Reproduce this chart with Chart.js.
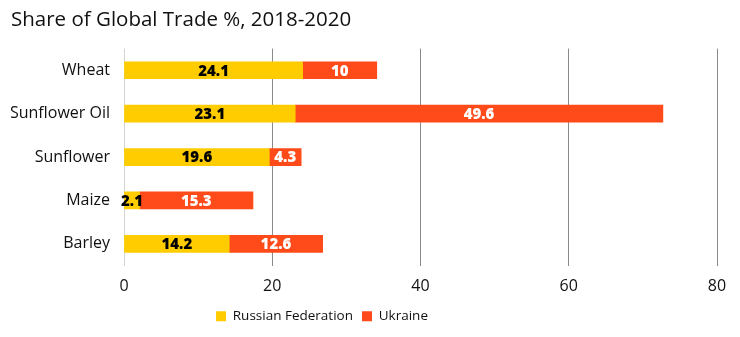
<!DOCTYPE html>
<html>
<head>
<meta charset="utf-8">
<script src="https://cdn.jsdelivr.net/npm/chart.js@4/dist/chart.umd.min.js"></script>
<style>
  html, body { margin: 0; padding: 0; background: #fff; }
  .chart-container { width: 740px; height: 337px; }
</style>
</head>
<body>
<div class="chart-container">
  <canvas id="trade-chart"></canvas>
</div>
<script>
const categories = ['Wheat', 'Sunflower Oil', 'Sunflower', 'Maize', 'Barley'];
const russiaValues = [24.1, 23.1, 19.6, 2.1, 14.2];
const ukraineValues = [10, 49.6, 4.3, 15.3, 12.6];
const xTicks = [0, 20, 40, 60, 80];

const FONT = '"Open Sans", "Noto Sans", sans-serif';

// writes the value in the middle of every bar segment
const barLabels = {
    id: 'barLabels',
    afterDatasetsDraw(chart) {
        const ctx = chart.ctx;
        ctx.save();
        ctx.font = `800 15px ${FONT}`;
        ctx.textAlign = 'center';
        ctx.textBaseline = 'middle';
        chart.data.datasets.forEach((ds, i) => {
            const meta = chart.getDatasetMeta(i);
            meta.data.forEach((bar, j) => {
                const mid = (bar.x + bar.base) / 2;
                ctx.fillStyle = i == 0 ? '#000000' : '#ffffff';
                ctx.fillText(String(ds.data[j]), mid, bar.y + 1);
            });
        });
        ctx.restore();
    }
};

// legend in the reference sits left of the canvas centre
const legendShift = {
    id: 'legendShift',
    afterLayout(chart) {
        chart.legend.left -= 42;
        chart.legend.right -= 42;
    }
};

const config = {
    type: 'bar',
    data: {
        labels: categories,
        datasets: [{
            label: 'Russian Federation',
            data: russiaValues,
            backgroundColor: '#FFCC00',
            barThickness: 17
        }, {
            label: 'Ukraine',
            data: ukraineValues,
            backgroundColor: '#FF4A1A',
            barThickness: 17
        }]
    },
    options: {
        indexAxis: 'y',
        animation: false,
        responsive: true,
        maintainAspectRatio: false,
        layout: {
            padding: { left: 11, right: 23, top: 4, bottom: 4 }
        },
        scales: {
            x: {
                stacked: true,
                min: 0,
                max: 80,
                afterBuildTicks: (scale) => {
                    scale.ticks = xTicks.map(v => ({ value: v }));
                },
                afterFit: (scale) => { scale.height = 35; },
                grid: {
                    color: (c) => c.tick && c.tick.value == 0 ? '#d4d4d4' : '#8a8a8a',
                    drawTicks: false
                },
                border: { display: false },
                ticks: {
                    color: '#111',
                    padding: 11,
                    font: { family: FONT, size: 16 }
                }
            },
            y: {
                stacked: true,
                grid: { display: false, drawTicks: false },
                border: { display: false },
                afterFit: (scale) => { scale.width = 113; },
                ticks: {
                    color: '#111',
                    padding: 14,
                    font: { family: FONT, size: 16 }
                }
            }
        },
        plugins: {
            title: {
                display: true,
                text: 'Share of Global Trade %, 2018-2020',
                align: 'start',
                color: '#111',
                font: { family: FONT, size: 20.5, weight: 'normal' },
                padding: { top: 4, bottom: 16 }
            },
            legend: {
                position: 'bottom',
                labels: {
                    color: '#111',
                    boxWidth: 10,
                    boxHeight: 10,
                    padding: 9,
                    font: { family: FONT, size: 13.5 }
                }
            },
            tooltip: { enabled: false }
        }
    },
    plugins: [barLabels, legendShift]
};

new Chart(document.getElementById('trade-chart'), config);
</script>
</body>
</html>
